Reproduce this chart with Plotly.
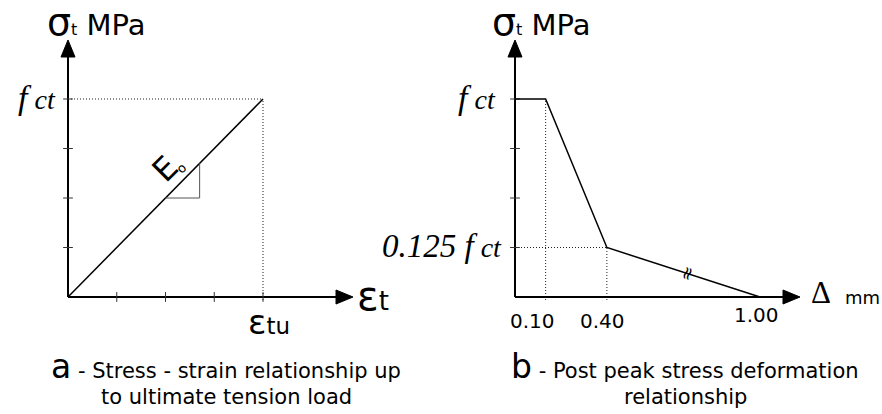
import plotly.graph_objects as go

# ---------------- data ----------------
# (a) stress-strain up to ultimate tension load (schematic divisions)
strain_div = [0, 1, 2, 3, 4]          # strain axis divisions, last one = εtu
stress_div = [0, 1, 2, 3, 4]          # stress axis divisions, last one = fct
eps_tu = 4
fct_a = 4
elastic_strain = [0, eps_tu]
elastic_stress = [0, fct_a]
slope_tri_x = [2.0, 2.7, 2.7]         # slope triangle (E0) corners
slope_tri_y = [2.0, 2.0, 2.7]

# (b) post-peak stress / deformation relationship
delta_mm = [0.0, 0.10, 0.40, 1.00]
stress_frac = [1.0, 1.0, 0.125, 0.0]  # σt / fct
delta_tick_labels = ["0.10", "0.40", "1.00"]
# the reference draws these on a schematic (not-to-scale) axis
delta_axis_pos = {0.0: 0, 0.10: 1, 0.40: 3, 1.00: 8}
frac_axis_pos = {1.0: 4, 0.125: 1, 0.0: 0}
stress_div_b = [1, 2, 3, 4]

# ---------------- layout constants (pixels) ----------------
W, H = 882, 414
SPLIT = 400
OY, UY = 297, 49.5            # y origin / unit for both panels
OXL, UXL = 68, 48.75          # left panel
OXR, UXR = 515, 30.625        # right panel

def xr(o, u, p0, p1):
    return [(p0 - o) / u, (p1 - o) / u]

yrange = [(OY - H) / UY, OY / UY]

def px(x):
    return x / W

def py(y):
    return 1 - y / H

SANS = "DejaVu Sans"
SERIF = "Liberation Serif"
BLACK = "#000"

fig = go.Figure()

def line(xs, ys, axis, width=1.5, color=BLACK, dash=None):
    xa, ya = ("x", "y") if axis == "L" else ("x2", "y2")
    fig.add_trace(go.Scatter(x=xs, y=ys, xaxis=xa, yaxis=ya, mode="lines",
                             line=dict(color=color, width=width, dash=dash),
                             hoverinfo="skip", showlegend=False))

def poly(xs, ys, axis):
    xa, ya = ("x", "y") if axis == "L" else ("x2", "y2")
    fig.add_trace(go.Scatter(x=xs + [xs[0]], y=ys + [ys[0]], xaxis=xa, yaxis=ya,
                             mode="lines", fill="toself", fillcolor=BLACK,
                             line=dict(color=BLACK, width=1),
                             hoverinfo="skip", showlegend=False))

def ticks(xs, ys, axis, sym):
    xa, ya = ("x", "y") if axis == "L" else ("x2", "y2")
    fig.add_trace(go.Scatter(x=xs, y=ys, xaxis=xa, yaxis=ya, mode="markers",
                             marker=dict(symbol=sym, size=7,
                                         line=dict(color="#333", width=1)),
                             hoverinfo="skip", showlegend=False))

def axes_with_arrows(axis, ux, x_tip_px, ox):
    ytip = (OY - 40) / UY
    xtip = (x_tip_px - ox) / ux
    L, HW = 17, 7
    line([0, 0], [0, ytip - L / UY], axis, width=2)
    poly([-HW / ux, HW / ux, 0], [ytip - L / UY, ytip - L / UY, ytip], axis)
    line([0, xtip - L / ux], [0, 0], axis, width=2)
    poly([xtip - L / ux, xtip - L / ux, xtip], [-HW / UY, HW / UY, 0], axis)

DOT = "1px,2px"

# ---- panel a ----
line([0, eps_tu], [fct_a, fct_a], "L", width=1, color="#222", dash=DOT)
line([eps_tu, eps_tu], [-3 / UY, fct_a], "L", width=1, color="#222", dash=DOT)
axes_with_arrows("L", UXL, 353, OXL)
ticks(strain_div[1:], [0] * (len(strain_div) - 1), "L", "line-ns")
ticks([0] * (len(stress_div) - 1), stress_div[1:], "L", "line-ew")
line(elastic_strain, elastic_stress, "L", width=1.5)
line(slope_tri_x, slope_tri_y, "L", width=1, color="#555")

# ---- panel b ----
bx = [delta_axis_pos[d] for d in delta_mm]
by = [frac_axis_pos[s] for s in stress_frac]
line([bx[1], bx[1]], [-3 / UY, by[1]], "R", width=1, color="#222", dash=DOT)
line([bx[2], bx[2]], [-3 / UY, by[2]], "R", width=1, color="#222", dash=DOT)
line([0, bx[2]], [by[2], by[2]], "R", width=1, color="#222", dash=DOT)
axes_with_arrows("R", UXR, 800, OXR)
ticks([0] * len(stress_div_b), stress_div_b, "R", "line-ew")
line(bx, by, "R", width=1.5)

# break mark on the last segment
t = 0.52
brk_x = bx[2] + t * (bx[3] - bx[2])
brk_y = by[2] + t * (by[3] - by[2])

annotations = []

def A(text, x, y, size, family=SANS, xanchor="center", yanchor="middle",
      angle=0, xref="paper", yref="paper", style="normal", color=BLACK):
    annotations.append(dict(text=text, x=x, y=y, xref=xref, yref=yref,
                            xanchor=xanchor, yanchor=yanchor, showarrow=False,
                            textangle=angle,
                            font=dict(family=family, size=size, color=color,
                                      style=style)))

A("≈", brk_x, brk_y, 18, xref="x2", yref="y2", angle=-70)

sig = ('<span style="font-size:38px">σ</span>'
       '<span style="font-size:16px">t</span> MPa')
A(sig, px(45), py(22), 29, xanchor="left")
A(sig, px(490), py(22), 29, xanchor="left")

fct_txt = '<span style="font-size:34px">f</span> ct'
A(fct_txt, px(58), py(97), 28, family=SERIF, xanchor="right", style="italic")
A(fct_txt, px(498), py(97), 28, family=SERIF, xanchor="right", style="italic")
A('<span style="font-size:33px">0.125 f</span> ct', px(504), py(246), 28,
  family=SERIF, xanchor="right", style="italic")

A("E", px(165), py(169), 32, angle=-45)
A("o", px(181), py(168), 13, angle=-45)

A('<span style="font-size:34px">ε</span>tu', px(269), py(322), 23)
A('<span style="font-size:40px">ε</span>t', px(355), py(296), 26, xanchor="left")

for lab, d, yc, dx in zip(delta_tick_labels, delta_mm[1:], [321, 321, 315], [-13, -4, -4]):
    A(lab, px(OXR + delta_axis_pos[d] * UXR + dx), py(yc), 20)

A("Δ", px(821), py(292), 31, family=SERIF)
A("mm", px(843), py(297), 18, xanchor="left")

A('<span style="font-size:33px">a</span> - Stress - strain relationship up',
  px(226), py(366), 21)
A("to ultimate tension load", px(226), py(397), 21)
A('<span style="font-size:33px">b</span> - Post peak stress deformation',
  px(685), py(366), 21)
A("relationship", px(685), py(397), 21)

ax_common = dict(visible=False, fixedrange=True, showgrid=False, zeroline=False)
fig.update_layout(
    width=W, height=H, margin=dict(l=0, r=0, t=0, b=0),
    paper_bgcolor="white", plot_bgcolor="white", showlegend=False,
    xaxis=dict(domain=[0, SPLIT / W], range=xr(OXL, UXL, 0, SPLIT), anchor="y", **ax_common),
    yaxis=dict(domain=[0, 1], range=yrange, anchor="x", **ax_common),
    xaxis2=dict(domain=[SPLIT / W, 1], range=xr(OXR, UXR, SPLIT, W), anchor="y2", **ax_common),
    yaxis2=dict(domain=[0, 1], range=yrange, anchor="x2", **ax_common),
    annotations=annotations,
)

fig.write_html("out.html")
